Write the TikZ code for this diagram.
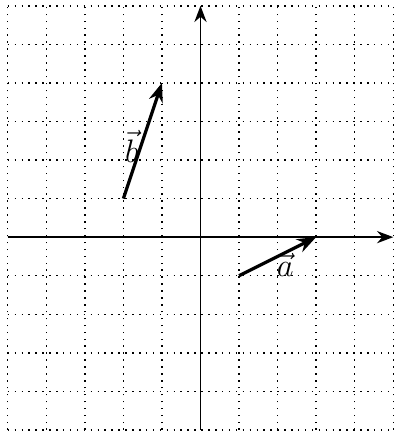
\documentclass[tikz,border=0pt]{standalone}
\usepackage{amsmath}
\usepackage{tikz}
\usetikzlibrary{arrows.meta}
\tikzset{
  gridline/.style={dotted, line width=0.55pt},
  axis/.style={semithick, -{Stealth[length=6pt]}},
  vect/.style={very thick, -{Stealth[length=7pt]}},
  lbl/.style={inner sep=0pt, font=\large},
}

\begin{document}
\begin{tikzpicture}[x=0.5cm, y=0.5cm]
  \useasboundingbox (-5.2,-5.08) rectangle (5,6.15);
  \draw[gridline, step=0.5cm] (-5,-5) grid (5,6);

  \coordinate (xl) at (-5,0);
  \coordinate (xr) at (5,0);
  \coordinate (yb) at (0,-5);
  \coordinate (yt) at (0,6);
  \draw[axis] (xl) -- (xr);
  \draw[axis] (yb) -- (yt);

  \coordinate (a0) at (1,-1);
  \coordinate (a1) at (3,0);
  \coordinate (b0) at (-2,1);
  \coordinate (b1) at (-1,4);
  \draw[vect] (a0) -- (a1);
  \draw[vect] (b0) -- (b1);

  \node[lbl] (la) at (2.2,-0.72) {$\vec{a}$};
  \node[lbl] (lb) at (-1.78,2.36) {$\vec{b}$};
\end{tikzpicture}
\end{document}
